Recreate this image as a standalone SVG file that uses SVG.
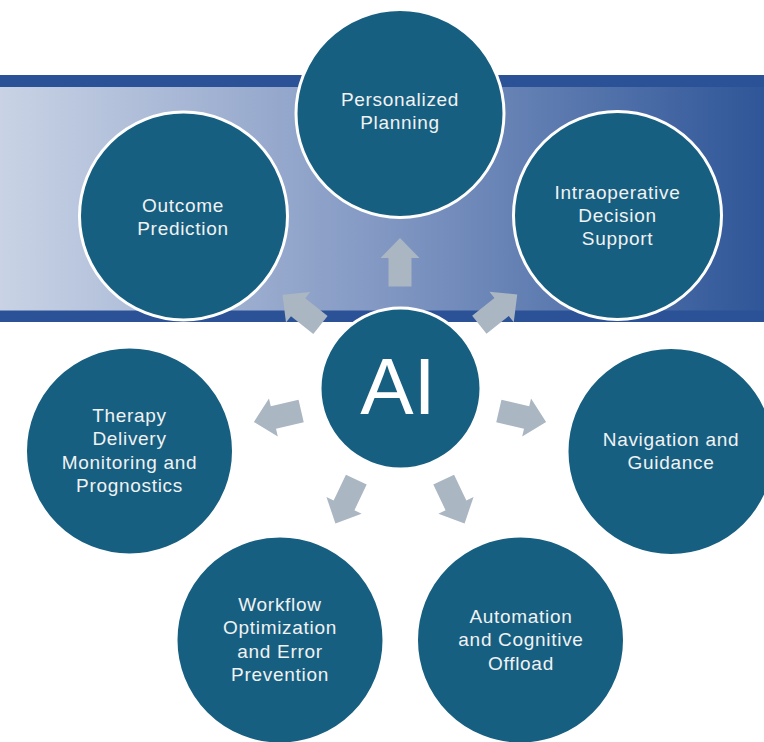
<svg xmlns="http://www.w3.org/2000/svg" width="764" height="742" viewBox="0 0 764 742">
  <style>
    .node { fill: #175f80; stroke: #ffffff; stroke-width: 3; }
    .label { font-family: "Liberation Sans", Arial, sans-serif; font-size: 19px; fill: #f0f2f4; text-anchor: middle; letter-spacing: 0.7px; }
    .hub { font-family: "Liberation Sans", Arial, sans-serif; font-size: 80px; fill: #ffffff; text-anchor: middle; }
    .arrow { fill: #aab6c2; }
  </style>
  <defs>
    <linearGradient id="bandFill" x1="0" y1="0" x2="1" y2="0">
      <stop offset="0" stop-color="#c9d3e5"/>
      <stop offset="0.5" stop-color="#8298c3"/>
      <stop offset="1" stop-color="#2f5698"/>
    </linearGradient>
    <!-- block arrow pointing up; rotated about the hub centre -->
    <path id="blockArrow" d="M400,238 L419.5,258 L411.5,258 L411.5,286.5 L388.5,286.5 L388.5,258 L380.5,258 Z"/>
  </defs>

  <rect width="764" height="742" fill="#ffffff"/>

  <!-- background band -->
  <g id="band">
    <rect x="0" y="75" width="764" height="247" fill="#2b5197"/>
    <rect x="0" y="87" width="764" height="223.5" fill="url(#bandFill)"/>
  </g>

  <!-- connectors -->
  <g id="connectors" class="arrow">
    <use href="#blockArrow"/>
    <use href="#blockArrow" transform="rotate(-51.6 400 388)"/>
    <use href="#blockArrow" transform="rotate(51.4 400 388)"/>
    <use href="#blockArrow" transform="rotate(-103.1 400 388)"/>
    <use href="#blockArrow" transform="rotate(103.1 400 388)"/>
    <use href="#blockArrow" transform="rotate(-154.5 400 388)"/>
    <use href="#blockArrow" transform="rotate(154.5 400 388)"/>
  </g>

  <g id="personalized-planning">
    <circle class="node" cx="400" cy="113.5" r="104"/>
    <text class="label" x="400" y="106">Personalized</text>
    <text class="label" x="400" y="129">Planning</text>
  </g>

  <g id="outcome-prediction">
    <circle class="node" cx="183.5" cy="216" r="104"/>
    <text class="label" x="183" y="211.5">Outcome</text>
    <text class="label" x="183" y="234.5">Prediction</text>
  </g>

  <g id="intraoperative-decision-support">
    <circle class="node" cx="617.5" cy="215.5" r="104"/>
    <text class="label" x="617.5" y="199">Intraoperative</text>
    <text class="label" x="617.5" y="222">Decision</text>
    <text class="label" x="617.5" y="245">Support</text>
  </g>

  <g id="therapy-delivery">
    <circle class="node" cx="129.5" cy="451" r="104"/>
    <text class="label" x="129.5" y="421.5">Therapy</text>
    <text class="label" x="129.5" y="445">Delivery</text>
    <text class="label" x="129.5" y="468.5">Monitoring and</text>
    <text class="label" x="129.5" y="492">Prognostics</text>
  </g>

  <g id="navigation-guidance">
    <circle class="node" cx="671" cy="451.5" r="104"/>
    <text class="label" x="671" y="446">Navigation and</text>
    <text class="label" x="671" y="469">Guidance</text>
  </g>

  <g id="workflow-optimization">
    <circle class="node" cx="280" cy="640" r="104"/>
    <text class="label" x="280" y="610.5">Workflow</text>
    <text class="label" x="280" y="634">Optimization</text>
    <text class="label" x="280" y="657.5">and Error</text>
    <text class="label" x="280" y="681">Prevention</text>
  </g>

  <g id="automation-offload">
    <circle class="node" cx="520.5" cy="640" r="104"/>
    <text class="label" x="521" y="622.5">Automation</text>
    <text class="label" x="521" y="646">and Cognitive</text>
    <text class="label" x="521" y="669.5">Offload</text>
  </g>

  <g id="ai-hub">
    <circle class="node" cx="400.5" cy="388.5" r="80.5"/>
    <text class="hub" x="398" y="414">AI</text>
  </g>
</svg>
